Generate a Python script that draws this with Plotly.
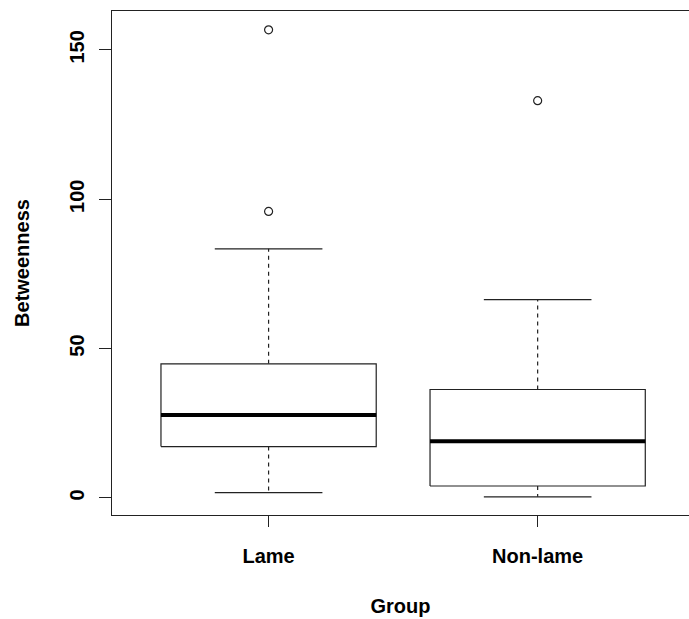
import plotly.graph_objects as go

# ---- data ----
groups = ["Lame", "Non-lame"]
lower_whisker = [1.8, 0.4]
q1 = [17.2, 4.0]
median = [27.8, 19.0]
q3 = [44.9, 36.3]
upper_whisker = [83.4, 66.4]
outliers = [[95.9, 156.7], [133.0]]

y_ticks = [0, 50, 100, 150]

FONT = "Liberation Sans, Arial, Helvetica, sans-serif"
INK = "#000000"
LINE = "#222222"
BOX_HALF = 0.4
STAPLE_HALF = 0.2
TXT = dict(family=FONT, size=20, color=INK, weight="bold")

fig = go.Figure()
for i, g in enumerate(groups):
    p = i + 1
    # whiskers (dashed)
    fig.add_trace(go.Scatter(x=[p, p], y=[q3[i], upper_whisker[i]], mode="lines",
                             line=dict(color=LINE, width=1.2, dash="4px,4px"), hoverinfo="skip"))
    fig.add_trace(go.Scatter(x=[p, p], y=[q1[i], lower_whisker[i]], mode="lines",
                             line=dict(color=LINE, width=1.2, dash="4px,4px"), hoverinfo="skip"))
    # staples
    fig.add_trace(go.Scatter(x=[p - STAPLE_HALF, p + STAPLE_HALF], y=[upper_whisker[i]] * 2, mode="lines",
                             line=dict(color=LINE, width=1.2), hoverinfo="skip"))
    fig.add_trace(go.Scatter(x=[p - STAPLE_HALF, p + STAPLE_HALF], y=[lower_whisker[i]] * 2, mode="lines",
                             line=dict(color=LINE, width=1.2), hoverinfo="skip"))
    # box
    fig.add_trace(go.Scatter(x=[p - BOX_HALF, p + BOX_HALF, p + BOX_HALF, p - BOX_HALF, p - BOX_HALF],
                             y=[q1[i], q1[i], q3[i], q3[i], q1[i]], mode="lines",
                             fill="toself", fillcolor="white",
                             line=dict(color=LINE, width=1.2), hoverinfo="skip"))
    # median
    fig.add_trace(go.Scatter(x=[p - BOX_HALF, p + BOX_HALF], y=[median[i]] * 2, mode="lines",
                             line=dict(color=INK, width=4), hoverinfo="skip"))
    # outliers
    fig.add_trace(go.Scatter(x=[p] * len(outliers[i]), y=outliers[i], mode="markers",
                             marker=dict(symbol="circle-open", size=8, color=LINE, line=dict(width=1.2)),
                             hoverinfo="skip"))

fig.update_layout(
    width=689, height=619,
    margin=dict(l=112, r=0, t=11, b=104),
    paper_bgcolor="white", plot_bgcolor="white",
    showlegend=False,
    font=TXT,
)
fig.update_xaxes(
    range=[0.418, 2.5625], tickvals=[1, 2], ticktext=groups,
    showline=True, mirror=True, linecolor=LINE, linewidth=1.2,
    ticks="outside", ticklen=11, tickcolor=LINE, tickwidth=1.2,
    showgrid=False, zeroline=False,
    ticklabelstandoff=12,
    tickfont=TXT,
    title=dict(text="Group", font=TXT, standoff=32),
)
fig.update_yaxes(
    range=[-5.7, 163.0], tickvals=y_ticks, ticktext=[str(v) for v in y_ticks],
    showline=True, mirror=False, linecolor=LINE, linewidth=1.2,
    ticks="outside", ticklen=12, tickcolor=LINE, tickwidth=1.2,
    showgrid=False, zeroline=False, tickangle=-90,
    ticklabelstandoff=7,
    tickfont=TXT,
    title=dict(text="Betweenness", font=TXT, standoff=30),
)

fig.write_html("out.html")
